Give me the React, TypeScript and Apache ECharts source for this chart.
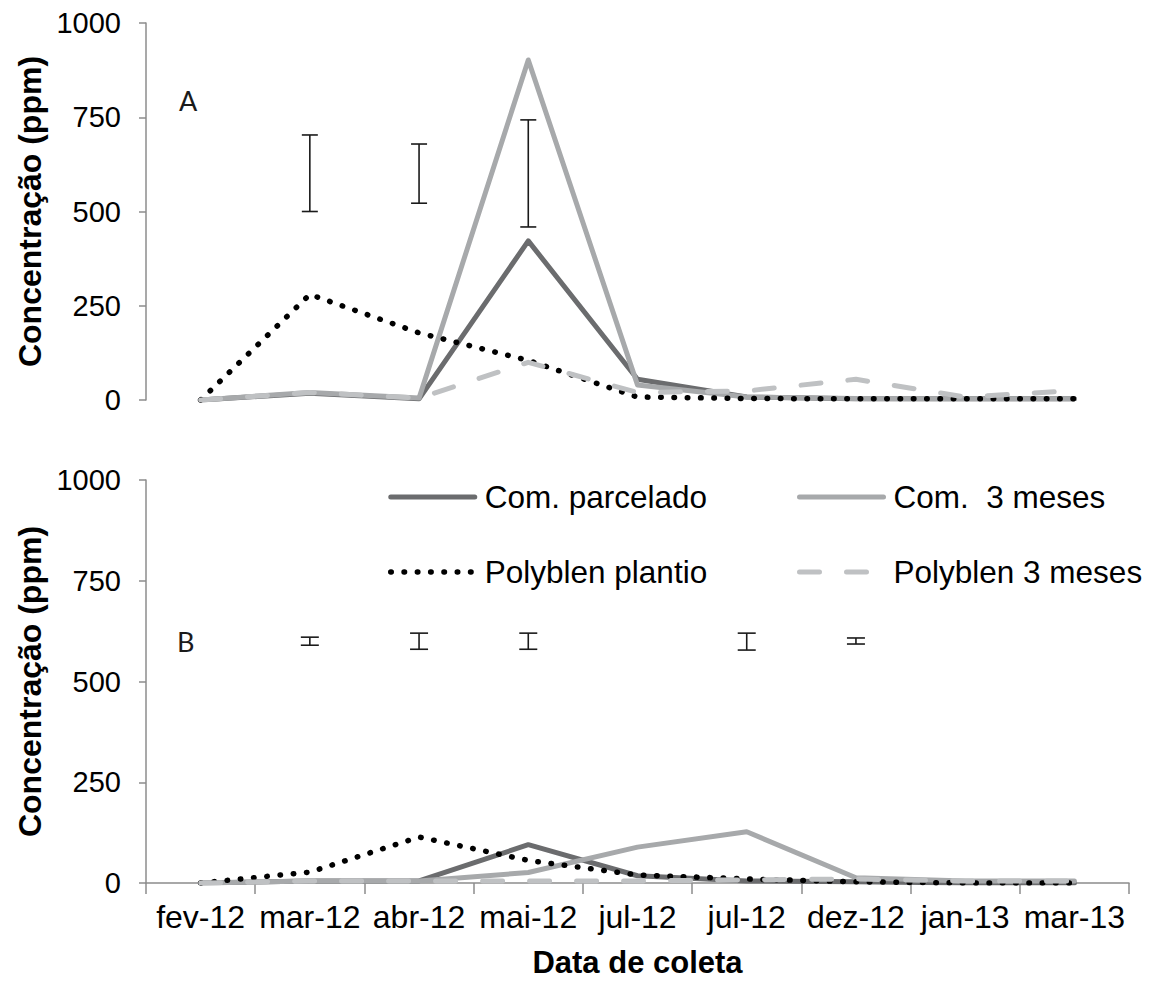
import React, { useEffect, useRef } from 'react';
import * as echarts from 'echarts';

const categories = ['fev-12', 'mar-12', 'abr-12', 'mai-12', 'jul-12', 'jul-12', 'dez-12', 'jan-13', 'mar-13'];

const seriesNames = ['Com. parcelado', 'Com.  3 meses', 'Polyblen plantio', 'Polyblen 3 meses'];

// Panel A
const comParceladoA = [0, 18, 3, 422, 55, 8, 3, 3, 3];
const com3MesesA = [0, 20, 5, 902, 40, 8, 4, 3, 3];
const polyPlantioA = [0, 280, 178, 105, 8, 4, 3, 3, 3];
const poly3MesesA = [0, 20, 5, 100, 20, 24, 55, 8, 25];

// Panel B
const comParceladoB = [0, 5, 5, 95, 18, 5, 3, 0, 0];
const com3MesesB = [0, 5, 5, 26, 89, 127, 13, 5, 5];
const polyPlantioB = [0, 27, 114, 56, 20, 10, 3, 0, 0];
const poly3MesesB = [0, 5, 5, 5, 5, 8, 10, 5, 5];

// error bars: [category index, low, high]
const errorBarsA = [[1, 500, 703], [2, 522, 679], [3, 459, 743]];
const errorBarsB = [[1, 590, 610], [2, 580, 620], [3, 580, 620], [5, 578, 620], [6, 593, 608]];

const yMin = 0;
const yMax = 1000;
const yInterval = 250;

export default function App() {
  const ref = useRef<HTMLDivElement>(null);

  useEffect(() => {
    const chart = echarts.init(ref.current!, null, { renderer: 'svg' });
    const font = '"Liberation Sans", Arial, sans-serif';
    const axisGray = '#8c8c8c';

    const lineStyles: any[] = [
      { color: '#6b6c6e', width: 5, type: 'solid', cap: 'round', join: 'round' },
      { color: '#a7a9ab', width: 5, type: 'solid', cap: 'round', join: 'round' },
      { color: '#000000', width: 5.5, type: [0.5, 12.8], cap: 'round', join: 'round' },
      { color: '#bfc1c3', width: 5, type: [20, 27], cap: 'round', join: 'round' },
    ];

    const dataA = [comParceladoA, com3MesesA, polyPlantioA, poly3MesesA];
    const dataB = [comParceladoB, com3MesesB, polyPlantioB, poly3MesesB];

    const yAxis = (gridIndex: number) => ({
      type: 'value',
      gridIndex,
      min: yMin,
      max: yMax,
      interval: yInterval,
      axisLine: { show: true, lineStyle: { color: axisGray, width: 1.5 } },
      axisTick: { show: true, inside: false, length: 7, lineStyle: { color: axisGray, width: 1.5 } },
      axisLabel: { fontSize: 29, color: '#000', fontFamily: font, margin: 25, formatter: (v: number) => String(v) },
      splitLine: { show: false },
      name: 'Concentração (ppm)',
      nameLocation: 'middle',
      nameRotate: 90,
      nameGap: 86,
      nameTextStyle: { fontSize: 32, fontWeight: 'bold', color: '#000', fontFamily: font },
    });

    const errorSeries = (idx: number, data: number[][], cap: number) => ({
      type: 'custom',
      name: 'err' + idx,
      xAxisIndex: idx,
      yAxisIndex: idx,
      data,
      encode: { x: 0, y: [1, 2] },
      z: 10,
      renderItem: (params: any, api: any) => {
        const lo = api.coord([api.value(0), api.value(1)]);
        const hi = api.coord([api.value(0), api.value(2)]);
        const style = { stroke: '#1a1a1a', lineWidth: 1.6 };
        return {
          type: 'group',
          children: [
            { type: 'line', shape: { x1: lo[0], y1: lo[1], x2: hi[0], y2: hi[1] }, style },
            { type: 'line', shape: { x1: lo[0] - cap, y1: lo[1], x2: lo[0] + cap, y2: lo[1] }, style },
            { type: 'line', shape: { x1: hi[0] - cap, y1: hi[1], x2: hi[0] + cap, y2: hi[1] }, style },
          ],
        };
      },
    });

    const lineSeries = (idx: number, data: number[][]) =>
      data.map((d, i) => ({
        type: 'line',
        name: seriesNames[i],
        xAxisIndex: idx,
        yAxisIndex: idx,
        data: d,
        symbol: 'none',
        lineStyle: lineStyles[i],
        itemStyle: { color: lineStyles[i].color },
        z: 2 + i,
      }));

    const legendItem = (i: number) => ({
      name: seriesNames[i],
      lineStyle: { ...lineStyles[i], width: lineStyles[i].width },
      itemStyle: { opacity: 0 },
    });

    const legendCommon = {
      orient: 'vertical',
      top: 481,
      itemWidth: 84,
      itemHeight: 32,
      itemGap: 43,
      padding: 0,
      selectedMode: false,
      itemStyle: { opacity: 0 },
      textStyle: { fontSize: 31.5, color: '#000', fontFamily: font, padding: [0, 0, 0, 5], lineHeight: 32 },
    };

    const option: any = {
      animation: false,
      backgroundColor: '#ffffff',
      grid: [
        { left: 146, top: 23, width: 983, height: 377 },
        { left: 146, top: 480, width: 983, height: 403 },
      ],
      xAxis: [
        {
          type: 'category',
          gridIndex: 0,
          data: categories,
          boundaryGap: true,
          axisLine: { show: false },
          axisTick: { show: false },
          axisLabel: { show: false },
          splitLine: { show: false },
        },
        {
          type: 'category',
          gridIndex: 1,
          data: categories,
          boundaryGap: true,
          axisLine: { show: true, lineStyle: { color: axisGray, width: 1.5 } },
          axisTick: { show: true, interval: 0, length: 11, lineStyle: { color: axisGray, width: 1.5 } },
          axisLabel: { interval: 0, fontSize: 32, color: '#000', fontFamily: font, margin: 18 },
          splitLine: { show: false },
          name: 'Data de coleta',
          nameLocation: 'middle',
          nameGap: 64,
          nameTextStyle: { fontSize: 31, fontWeight: 'bold', color: '#000', fontFamily: font, verticalAlign: 'top' },
        },
      ],
      yAxis: [yAxis(0), yAxis(1)],
      legend: [
        { ...legendCommon, left: 388, data: [legendItem(0), legendItem(2)] },
        { ...legendCommon, left: 797, data: [legendItem(1), legendItem(3)] },
      ],
      graphic: [
        {
          type: 'text',
          left: 179,
          top: 87,
          style: { text: 'A', fontSize: 27, fontFamily: 'Lato, "Open Sans", sans-serif', fill: '#1a1a1a' },
        },
        {
          type: 'text',
          left: 177,
          top: 628,
          style: { text: 'B', fontSize: 27, fontFamily: 'Lato, "Open Sans", sans-serif', fill: '#1a1a1a' },
        },
      ],
      series: [
        ...lineSeries(0, dataA),
        ...lineSeries(1, dataB),
        errorSeries(0, errorBarsA, 8),
        errorSeries(1, errorBarsB, 9),
      ],
    };

    chart.setOption(option);
    return () => chart.dispose();
  }, []);

  return <div ref={ref} style={{ position: 'fixed', left: 0, top: 0, width: 1149, height: 982 }} />;
}
